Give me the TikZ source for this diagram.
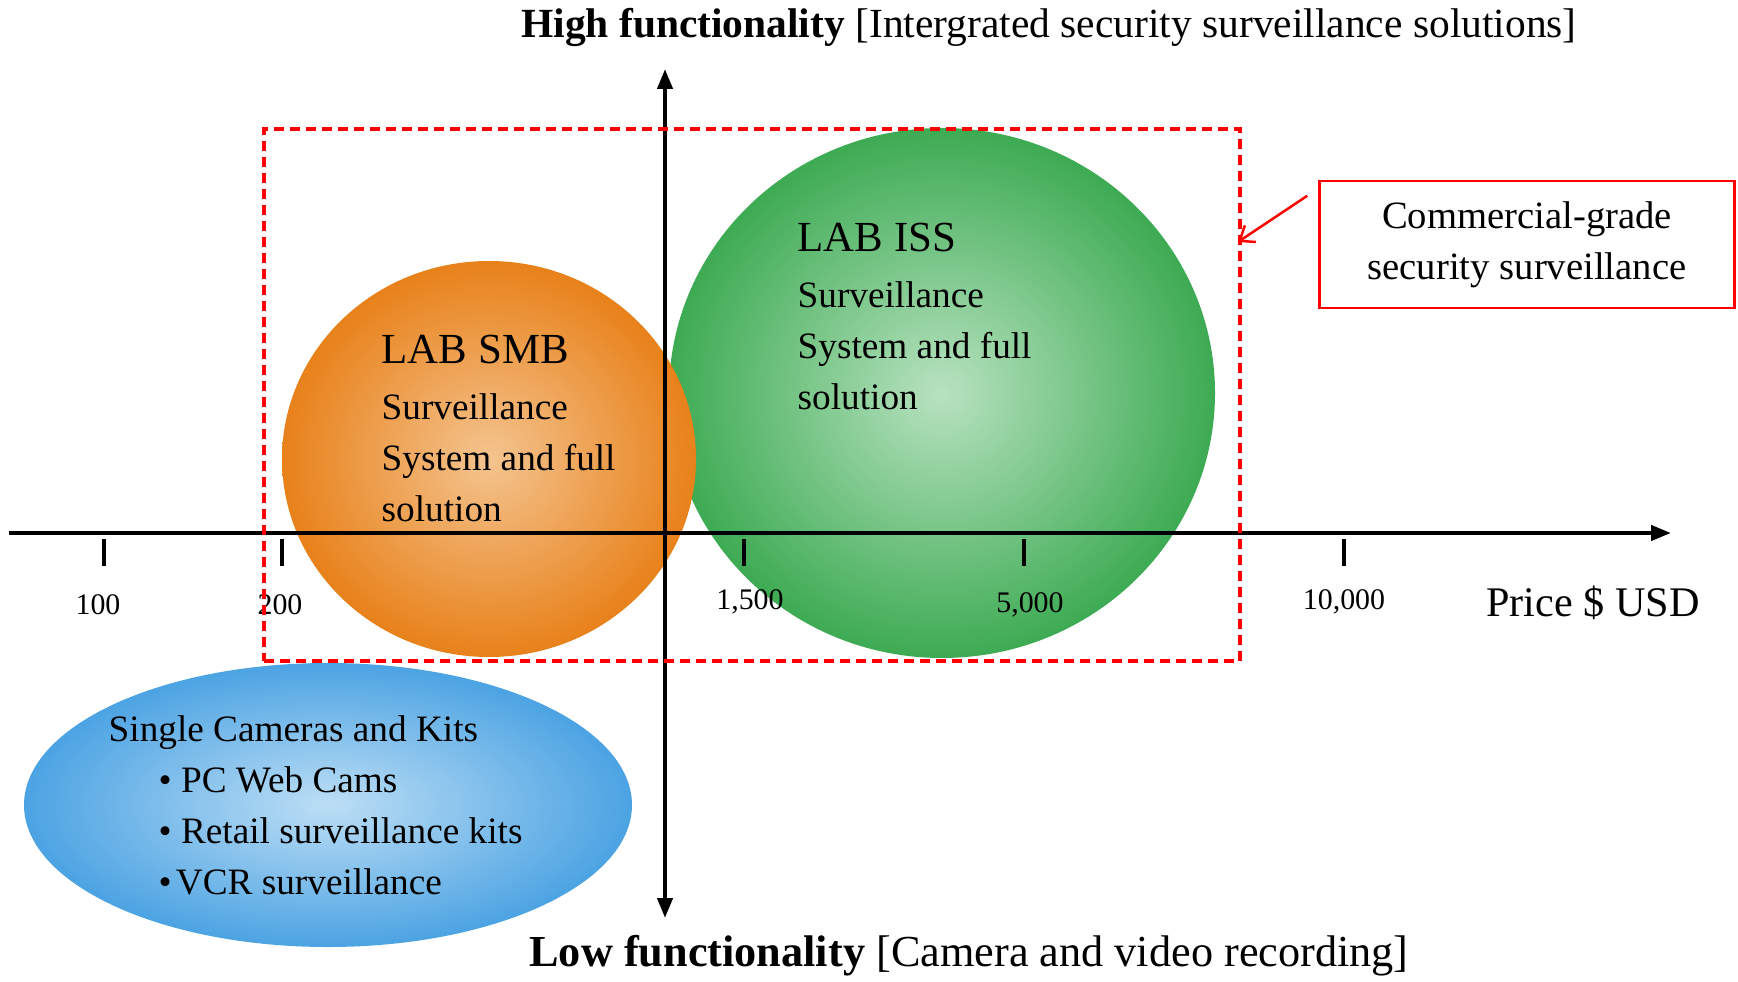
\documentclass[tikz,border=0pt]{standalone}
\usepackage{fontspec}
\setmainfont{Liberation Serif}
\usepackage{tikz}
\usetikzlibrary{arrows.meta,positioning,calc,shapes.geometric}
\definecolor{OrangeDeep}{HTML}{E8811A}
\definecolor{OrangeLight}{HTML}{F4C48F}
\definecolor{GreenDeep}{HTML}{3DAB53}
\definecolor{GreenLight}{HTML}{B8E2C0}
\definecolor{BlueDeep}{HTML}{4CA3E3}
\definecolor{BlueLight}{HTML}{BCDEF5}
\definecolor{Alarm}{HTML}{FF0000}

\begin{document}
\begin{tikzpicture}[x=1cm,y=1cm,
    blob/.style={ellipse,inner sep=0pt,shade},
    blobtext/.style={anchor=north west,inner sep=0pt,align=left,font=\fontsize{10.6}{14.5}\selectfont},
    axis/.style={line width=1.2pt,black},
    tickmark/.style={line width=0.9pt,black},
    ticklabel/.style={font=\fontsize{8.5}{10}\selectfont,inner sep=0pt},
    heading/.style={inner sep=0pt}]
      \useasboundingbox (0,0) rectangle (17.38,9.81);

      % market segments
      \node[blob,inner color=GreenLight,outer color=GreenDeep,minimum width=5.46cm,minimum height=5.30cm] (iss) at (9.42,5.88) {};
      \node[blob,inner color=OrangeLight,outer color=OrangeDeep,minimum width=4.14cm,minimum height=3.96cm] (smb) at (4.89,5.22) {};
      \node[blob,inner color=BlueLight,outer color=BlueDeep,minimum width=6.08cm,minimum height=2.84cm] (kits) at (3.28,1.76) {};

      \node[blobtext] (isstext) at (7.97,7.59) {{\fontsize{12.2}{15}\selectfont LAB ISS}\\[1.5pt]Surveillance\\System and full\\solution};
      \node[blobtext] (smbtext) at (3.81,6.47) {{\fontsize{12.2}{15}\selectfont LAB SMB}\\[1.5pt]Surveillance\\System and full\\solution};
      \node[blobtext] (kitstext) at (1.08,2.66) {Single Cameras and Kits\\\hspace*{0.5cm}\textbullet\ PC Web Cams\\\hspace*{0.5cm}\textbullet\ Retail surveillance kits\\\hspace*{0.5cm}\textbullet\hspace{1.2pt}VCR surveillance};

      % axes
      \coordinate (xstart) at (0.09,4.48);
      \coordinate (xend) at (16.71,4.48);
      \coordinate (ybottom) at (6.65,0.63);
      \coordinate (ytop) at (6.65,9.12);
      \draw[axis,-{Triangle[length=2mm,width=1.5mm]}] (xstart) -- (xend);
      \draw[axis,{Triangle[length=2mm,width=1.5mm]}-{Triangle[length=2mm,width=1.5mm]}] (ybottom) -- (ytop);

      \foreach \x/\lx/\ly/\lab [count=\i] in {1.04/0.98/3.76/100, 2.82/2.80/3.76/200, 7.44/7.50/3.79/{1,500}, 10.24/10.30/3.76/{5,000}, 13.44/13.44/3.79/{10,000}}{
        \draw[tickmark] (\x,4.42) -- (\x,4.15);
        \node[ticklabel] (tick-\i) at (\lx,\ly) {\lab};
      }
      \node[font=\fontsize{12}{14}\selectfont,inner sep=0pt] (price) at (15.93,3.78) {Price \$ USD};

      % commercial grade region
      \node[draw=Alarm,line width=1.1pt,dash pattern=on 0.1cm off 0.06cm,minimum width=9.76cm,minimum height=5.32cm] (cgzone) at (7.52,5.86) {};
      \node[draw=Alarm,line width=0.7pt,minimum width=4.15cm,minimum height=1.27cm,align=center,font=\fontsize{11}{14.5}\selectfont] (cgbox) at (15.27,7.365) {Commercial-grade\\security surveillance};
      \coordinate (cgfrom) at ($(cgbox.north west)+(-0.11,-0.16)$);
      \coordinate (cgto) at ($(cgzone.east)+(-0.04,1.53)$);
      \draw[Alarm,line width=0.7pt,-{Straight Barb[length=1.3mm,width=2mm]}] (cgfrom) -- (cgto);

      \node[heading,font=\fontsize{11.8}{14}\selectfont] (hightitle) at (10.49,9.54) {\textbf{High functionality} [Intergrated security surveillance solutions]};
      \node[heading,font=\fontsize{12.6}{15}\selectfont] (lowtitle) at (9.69,0.25) {\textbf{Low functionality} [Camera and video recording]};
    \end{tikzpicture}
\end{document}
